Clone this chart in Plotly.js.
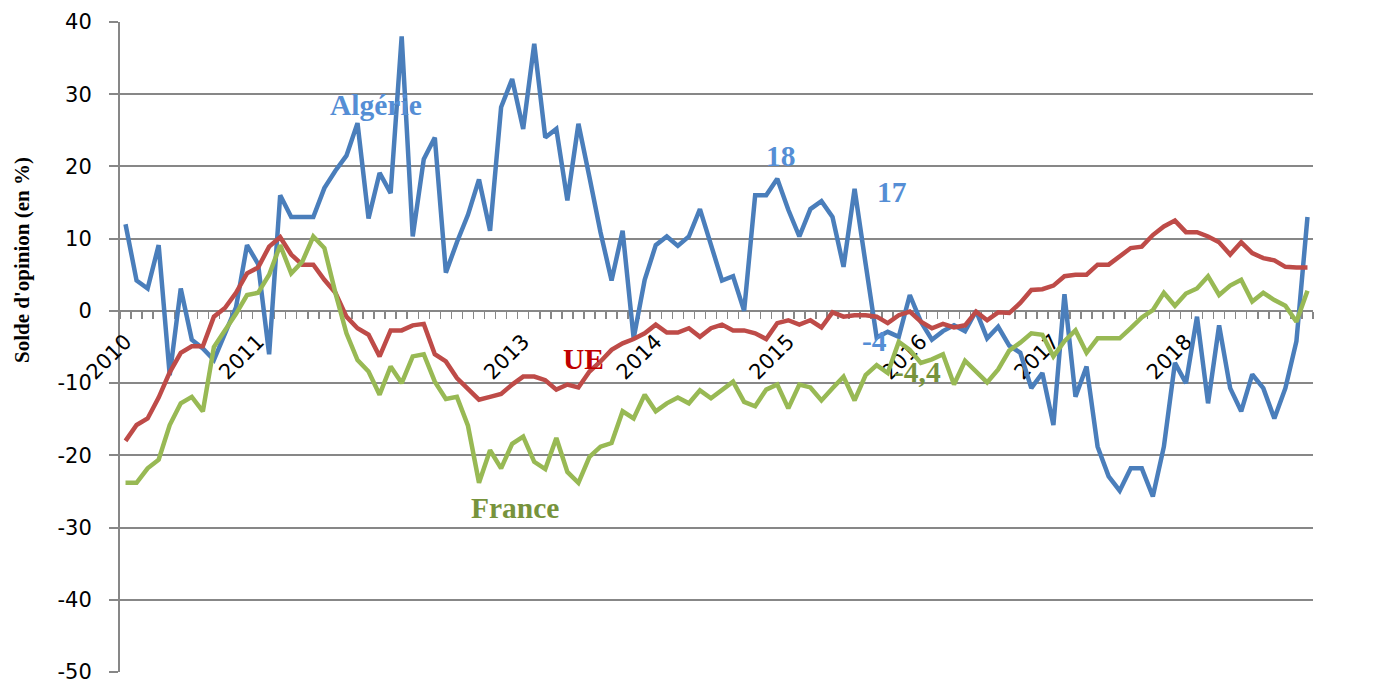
<!DOCTYPE html>
<html>
<head>
<meta charset="utf-8">
<script src="https://cdn.plot.ly/plotly-3.0.1.min.js"></script>
<style>
html,body{margin:0;padding:0;background:#fff;}
#chart{width:1385px;height:686px;}
</style>
</head>
<body>
<div id="chart"></div>
<script>
// Monthly observations, January 2010 to December 2018 (108 months)
const monthCount = 108;
const monthIndex = Array.from({length: monthCount}, (_, i) => i);

const tickYearPositions = [0, 12, 36, 48, 60, 72, 84, 96];
const tickYearLabels = ["2010", "2011", "2013", "2014", "2015", "2016", "2017", "2018"];

const yTickValues = [-50, -40, -30, -20, -10, 0, 10, 20, 30, 40];
const yTickLabels = ["-50", "-40", "-30", "-20", "-10", "0", "10", "20", "30", "40"];

const algerie = [
  12, 4.2, 3.1, 9.1, -8.9, 3.1, -4, -5.2, -6.8, -3.2, 0.5, 9.1,
  6.5, -6, 16, 13, 13, 13, 17, 19.4, 21.5, 26, 12.8, 19.1,
  16.3, 38, 10.3, 21, 24, 5.3, 9.5, 13.3, 18.2, 11.1, 28.2, 32.1,
  25.2, 37, 24, 25.2, 15.3, 25.9, 18.5, 10.9, 4.2, 11.1, -3.8, 4.3,
  9.1, 10.3, 9, 10.3, 14.1, 9.1, 4.2, 4.8, 0, 16, 16, 18.3,
  14, 10.3, 14.1, 15.2, 13, 6.1, 16.9, 6.5, -3.7, -2.9, -3.6, 2.2,
  -1.5, -4, -2.8, -2, -2.8, 0, -3.8, -2.2, -4.8, -5.8, -10.7, -8.6,
  -15.8, 2.3, -11.9, -7.7, -18.8, -22.9, -24.9, -21.8, -21.8, -25.7, -18.8, -7.2,
  -10, -0.8, -12.8, -2, -10.7, -13.9, -8.8, -10.7, -14.9, -10.7, -4.2, 13
];

const ue = [
  -18, -15.8, -14.9, -12, -8.5, -5.8, -4.9, -4.9, -0.8, 0.4, 2.5, 5.2,
  6, 8.9, 10.2, 7.8, 6.4, 6.4, 4.3, 2.5, -0.8, -2.4, -3.3, -6.3,
  -2.7, -2.7, -2, -1.8, -6, -7, -9.3, -10.9, -12.3, -11.9, -11.5, -10.2,
  -9.1, -9.1, -9.6, -10.9, -10.2, -10.6, -8.4, -7, -5.4, -4.5, -3.9, -3.1,
  -1.9, -3, -3, -2.4, -3.6, -2.4, -1.9, -2.7, -2.7, -3.1, -3.9, -1.7,
  -1.3, -1.9, -1.3, -2.3, -0.2, -0.8, -0.6, -0.6, -0.8, -1.7, -0.6, -0.1,
  -1.5, -2.4, -1.8, -2.3, -2, -0.1, -1.3, -0.2, -0.3, 1.1, 2.9, 3,
  3.5, 4.8, 5, 5, 6.4, 6.4, 7.6, 8.7, 8.9, 10.5, 11.7, 12.5,
  10.9, 10.9, 10.3, 9.5, 7.8, 9.5, 8, 7.3, 7, 6.1, 6, 6
];

const france = [
  -23.8, -23.8, -21.8, -20.6, -15.8, -12.8, -11.9, -13.9, -5, -2.8, -0.4, 2.2,
  2.5, 5, 9.1, 5.2, 6.8, 10.3, 8.7, 2.5, -3.1, -6.8, -8.4, -11.6,
  -7.7, -10, -6.3, -6, -9.8, -12.2, -11.9, -15.9, -23.8, -19.3, -21.8, -18.4,
  -17.4, -20.9, -21.9, -17.6, -22.3, -23.8, -20.2, -18.8, -18.3, -13.9, -14.9, -11.6,
  -13.9, -12.8, -12, -12.8, -11, -12.1, -11, -9.8, -12.6, -13.2, -10.9, -10.2,
  -13.5, -10.2, -10.6, -12.4, -10.7, -9.1, -12.4, -8.9, -7.5, -8.6, -4.3, -5.4,
  -7.2, -6.7, -6, -10.2, -6.9, -8.4, -9.9, -8.1, -5.5, -4.4, -3.1, -3.3,
  -6.3, -4.2, -2.7, -5.8, -3.8, -3.8, -3.8, -2.4, -0.9, 0.1, 2.5, 0.7,
  2.4, 3.1, 4.8, 2.2, 3.5, 4.3, 1.3, 2.5, 1.5, 0.7, -1.5, 2.8
];

const boundaries = Array.from({length: monthCount + 1}, (_, i) => i - 0.5);

const gray = '#878787';
const serifBold = 'Liberation Serif';

const traces = [
  {x: monthIndex, y: algerie, type: 'scatter', mode: 'lines', name: 'Algérie',
   line: {color: '#4A7EBB', width: 4.5}},
  {x: monthIndex, y: ue, type: 'scatter', mode: 'lines', name: 'UE',
   line: {color: '#BE4B48', width: 4.5}},
  {x: monthIndex, y: france, type: 'scatter', mode: 'lines', name: 'France',
   line: {color: '#98B954', width: 4.5}}
];

function lab(text, x, y, color) {
  return {text: '<b>' + text + '</b>', x: x, y: y, xref: 'x', yref: 'y',
          showarrow: false, xanchor: 'center', yanchor: 'middle',
          font: {family: serifBold, size: 29.5, color: color}};
}

const blueText = '#558ED5';
const redText = '#C00000';
const greenText = '#77933C';

const layout = {
  width: 1385, height: 686,
  margin: {l: 120, r: 72, t: 22, b: 14, pad: 0},
  paper_bgcolor: '#ffffff', plot_bgcolor: '#ffffff',
  showlegend: false,
  xaxis: {
    range: [-0.5, 107.5],
    anchor: 'free', position: 50 / 90,
    tickmode: 'array', tickvals: tickYearPositions, ticktext: tickYearLabels,
    ticks: '', tickangle: -45, ticklabelstandoff: 9,
    tickfont: {family: 'DejaVu Sans', size: 21, color: '#000'},
    minor: {tickmode: 'array', tickvals: boundaries, ticks: 'outside', ticklen: 7,
            tickwidth: 1.5, tickcolor: gray, showgrid: false},
    showline: true, linecolor: gray, linewidth: 2,
    showgrid: false, zeroline: false, layer: 'below traces', fixedrange: true
  },
  yaxis: {
    range: [-50, 40], tickmode: 'array', tickvals: yTickValues, ticktext: yTickLabels,
    ticks: 'outside', ticklen: 9, tickwidth: 2, tickcolor: gray,
    ticklabelstandoff: 13,
    tickfont: {family: 'DejaVu Sans', size: 21, color: '#000'},
    showgrid: true, gridcolor: gray, gridwidth: 2,
    showline: true, linecolor: gray, linewidth: 2,
    zeroline: false, layer: 'below traces', fixedrange: true
  },
  annotations: [
    {text: "<b>Solde d'opinion (en %)</b>", xref: 'paper', yref: 'paper',
     x: (22 - 120) / 1193, y: (672 - 260) / 650, textangle: -90, showarrow: false,
     xanchor: 'center', yanchor: 'middle',
     font: {family: serifBold, size: 21, color: '#000'}},
    lab('Algérie', 22.7, 28.5, blueText),
    lab('18', 59.3, 21.5, blueText),
    lab('17', 69.4, 16.5, blueText),
    lab('-4', 67.8, -4.2, blueText),
    lab('-4,4', 71.7, -8.4, greenText),
    lab('13', 110.3, 13.3, blueText),
    lab('+6', 110.8, 7.1, redText),
    lab('2,5', 110.5, 2.2, greenText),
    lab('UE', 41.5, -6.6, redText),
    lab('France', 35.3, -27.3, greenText)
  ]
};

Plotly.newPlot('chart', traces, layout, {displayModeBar: false, staticPlot: true});
</script>
</body>
</html>
